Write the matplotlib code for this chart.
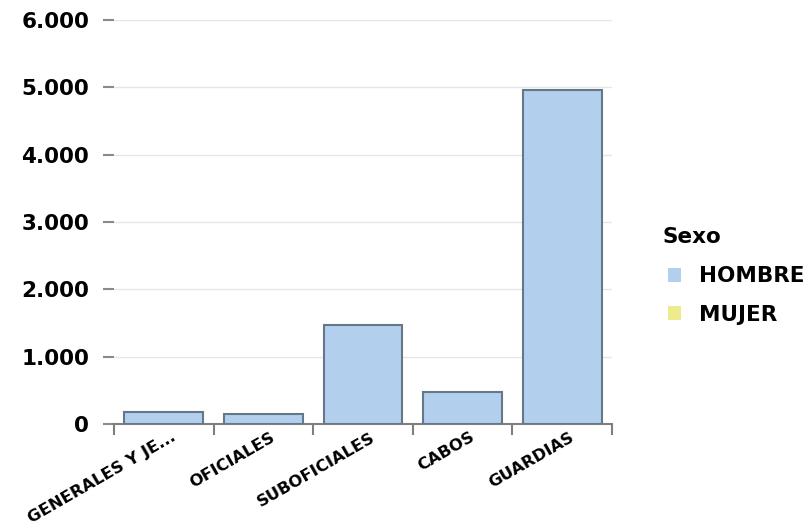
import matplotlib
matplotlib.use("Agg")
import matplotlib.pyplot as plt
import matplotlib.transforms as mtrans
from matplotlib.patches import Patch
from matplotlib.ticker import FuncFormatter

categorias = ["GENERALES Y JE...", "OFICIALES", "SUBOFICIALES", "CABOS", "GUARDIAS"]
hombre = [180, 150, 1470, 475, 4960]
mujer = [0, 0, 0, 0, 0]
series = ["HOMBRE", "MUJER"]
colores = ["#b3cfee", "#eeea8e"]
y_ticks = [0, 1000, 2000, 3000, 4000, 5000, 6000]


def miles(v, pos):
    return f"{int(v):,}".replace(",", ".")


fig = plt.figure(figsize=(8.1, 5.26), dpi=100)
ax = fig.add_axes([114 / 810, 1 - 424 / 526, 498 / 810, 404 / 526])

x = range(len(categorias))
ax.bar(x, hombre, width=0.79, color=colores[0], edgecolor="#67778a", linewidth=1.5, zorder=3)
ax.bar(x, mujer, width=0.79, bottom=hombre, color=colores[1], linewidth=0, zorder=3)

ax.set_xlim(-0.5, len(categorias) - 0.5)
ax.set_ylim(0, 6000)
ax.set_yticks(y_ticks)
ax.yaxis.set_major_formatter(FuncFormatter(miles))
ax.grid(axis="y", color="#e6e6e6", linewidth=1, zorder=0)

for s in ["top", "right", "left"]:
    ax.spines[s].set_visible(False)
ax.spines["bottom"].set_color("#7f7f7f")
ax.spines["bottom"].set_linewidth(1.5)

ax.tick_params(axis="y", length=8, width=1.5, color="#8a8a8a", pad=10)
for t in ax.get_yticklabels():
    t.set_fontsize(15.5)
    t.set_fontweight("bold")

ax.set_xticks([i - 0.5 for i in range(len(categorias) + 1)], minor=True)
ax.tick_params(axis="x", which="minor", length=8, width=1.5, color="#7f7f7f")
ax.set_xticks(list(x))
ax.tick_params(axis="x", which="major", length=0, pad=4)
ax.set_xticklabels(categorias, rotation=30, ha="right", rotation_mode="anchor",
                   fontsize=11.8, fontweight="bold")
off = mtrans.ScaledTranslation(0.07, 0.0, fig.dpi_scale_trans)
for t in ax.get_xticklabels():
    t.set_transform(t.get_transform() + off)

# leyenda
fig.text(663 / 810, 1 - 237 / 526, "Sexo", fontsize=15.5, fontweight="bold",
         ha="left", va="center")
handles = [Patch(facecolor=c, edgecolor="none") for c in colores]
fig.legend(handles, series, loc="center left",
           bbox_to_anchor=(649 / 810, 1 - 295.5 / 526), frameon=False,
           prop={"size": 15.5, "weight": "bold"}, handlelength=0.6,
           handleheight=0.6, handletextpad=0.8, labelspacing=0.84)

fig.savefig("out.png", dpi=100)
